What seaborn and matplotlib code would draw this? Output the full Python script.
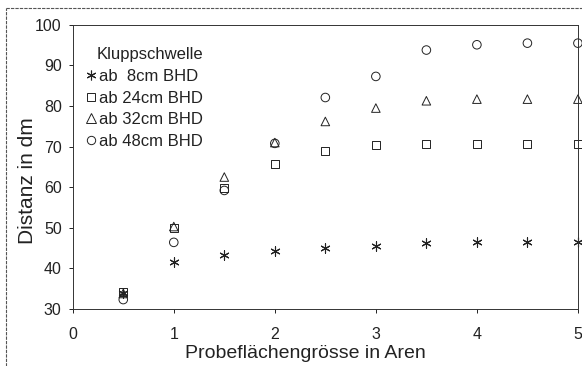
import matplotlib
matplotlib.use("Agg")
import matplotlib.pyplot as plt
import seaborn as sns
import pandas as pd
from matplotlib.lines import Line2D

x_vals = [0.5, 1.0, 1.5, 2.0, 2.5, 3.0, 3.5, 4.0, 4.5, 5.0]
s8 = [33.9, 41.5, 43.2, 44.2, 45.0, 45.4, 46.2, 46.6, 46.6, 46.6]
s24 = [34.2, 50.0, 59.8, 65.8, 69.0, 70.3, 70.7, 70.7, 70.7, 70.7]
s32 = [33.8, 50.3, 62.5, 71.0, 76.2, 79.5, 81.3, 81.7, 81.7, 81.7]
s48 = [32.3, 46.4, 59.2, 70.8, 82.1, 87.3, 93.8, 95.1, 95.5, 95.5]
labels = ["ab  8cm BHD", "ab 24cm BHD", "ab 32cm BHD", "ab 48cm BHD"]
legend_title = "Kluppschwelle"
x_label = "Probeflächengrösse in Aren"
y_label = "Distanz in dm"

rows = []
for lab, ys in zip(labels, [s8, s24, s32, s48]):
    for xv, yv in zip(x_vals, ys):
        rows.append({"x": xv, "y": yv, "serie": lab})
df = pd.DataFrame(rows)

sns.set_style("ticks")
plt.rcParams["font.family"] = ["Liberation Sans", "DejaVu Sans"]

fig = plt.figure(figsize=(5.82, 3.66), dpi=100)
ax = fig.add_axes([0.125, 0.156, 0.868, 0.776])

markers = {labels[0]: (6, 2, 0), labels[1]: "s", labels[2]: "^", labels[3]: "o"}
sizes = {labels[0]: 45, labels[1]: 32, labels[2]: 38, labels[3]: 38}
for lab in labels:
    sub = df[df["serie"] == lab]
    if lab == labels[0]:
        sns.scatterplot(data=sub, x="x", y="y", marker=markers[lab], s=sizes[lab],
                        color="#222222", linewidth=0.8, ax=ax, legend=False, clip_on=False)
    else:
        sns.scatterplot(data=sub, x="x", y="y", marker=markers[lab], s=sizes[lab],
                        facecolor="none", edgecolor="#222222", linewidth=0.7, ax=ax,
                        legend=False, clip_on=False)

ax.set_xlim(0, 5)
ax.set_ylim(30, 100)
ax.set_xticks([0, 1, 2, 3, 4, 5])
ax.set_yticks(range(30, 101, 10))
ax.set_xlabel(x_label, fontsize=14, color="#222222")
ax.set_ylabel(y_label, fontsize=15, color="#222222")
ax.xaxis.set_label_coords(0.46, -0.127)
ax.yaxis.set_label_coords(-0.071, 0.45)
ax.tick_params(axis="both", labelsize=11.5, colors="#222222", length=3, width=0.7,
               direction="out")
ax.tick_params(axis="x", pad=10)
ax.tick_params(axis="y", pad=5)
for sp in ax.spines.values():
    sp.set_linewidth(0.7)
    sp.set_color("#333333")
    sp.set_linestyle((0, (4, 1)))

handles = [
    Line2D([], [], linestyle="none", marker=(6, 2, 0), markersize=7, color="#222222", markeredgewidth=0.8),
    Line2D([], [], linestyle="none", marker="s", markersize=6, markerfacecolor="none", markeredgecolor="#222222", markeredgewidth=0.7),
    Line2D([], [], linestyle="none", marker="^", markersize=6.5, markerfacecolor="none", markeredgecolor="#222222", markeredgewidth=0.7),
    Line2D([], [], linestyle="none", marker="o", markersize=6, markerfacecolor="none", markeredgecolor="#222222", markeredgewidth=0.7),
]
leg = ax.legend(handles, labels, title=legend_title, loc="upper left", frameon=False,
                fontsize=12, title_fontsize=12, handlelength=0.5, handletextpad=0.25,
                labelspacing=0.4, borderaxespad=0.0, bbox_to_anchor=(0.015, 0.945))
leg._legend_box.align = "right"
for t in leg.get_texts():
    t.set_color("#222222")
leg.get_title().set_color("#222222")

# figure frame lines (left and top)
fig.add_artist(Line2D([0.011, 0.011], [0.0, 0.978], transform=fig.transFigure,
                      color="#555555", linewidth=0.8, linestyle=(0, (3, 1))))
fig.add_artist(Line2D([0.011, 1.0], [0.978, 0.978], transform=fig.transFigure,
                      color="#555555", linewidth=0.8, linestyle=(0, (3, 1))))

fig.savefig("out.png", dpi=100)
